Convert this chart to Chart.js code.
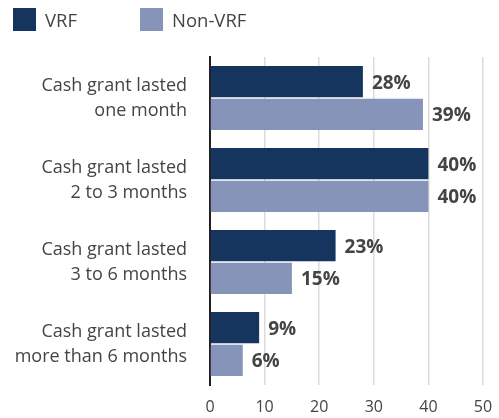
<!DOCTYPE html>
<html>
<head>
<meta charset="utf-8">
<script src="https://cdn.jsdelivr.net/npm/chart.js@4"></script>
<style>
  html, body { margin: 0; padding: 0; background: #fff; }
  #wrap { position: relative; width: 499px; height: 418px; }
  canvas { display: block; }
  #legend { position: absolute; left: 13px; top: 8px; font-family: "Open Sans", sans-serif; font-size: 18.5px; color: #444; display: flex; line-height: 23px; }
  .item { display: flex; align-items: center; margin-right: 63px; }
  .box { width: 23px; height: 23px; margin-right: 9px; }
</style>
</head>
<body>
<div id="wrap">
  <div id="legend"></div>
  <canvas id="chart" width="499" height="418"></canvas>
</div>
<script>
// ================= DATA =================
const categorias = [
  ["Cash grant lasted", "one month"],
  ["Cash grant lasted", "2 to 3 months"],
  ["Cash grant lasted", "3 to 6 months"],
  ["Cash grant lasted", "more than 6 months"]
];
const series = ["VRF", "Non-VRF"];
const vrf = [28, 40, 23, 9];
const nonVrf = [39, 40, 15, 6];
const xTicks = [0, 10, 20, 30, 40, 50];

const colores = ["#16355e", "#8594b8"];

// ================= LEGEND =================
const legendEl = document.getElementById("legend");
series.forEach((s, i) => {
  legendEl.innerHTML += `<div class="item"><div class="box" style="background:${colores[i]}"></div>${s}</div>`;
});

// ================= PLUGIN LABELS =================
const valueLabels = {
  id: "valueLabels",
  afterDatasetsDraw(chart) {
    const ctx = chart.ctx;
    ctx.save();
    ctx.font = "bold 19px 'Open Sans', sans-serif";
    ctx.fillStyle = "#444";
    ctx.textAlign = "left";
    ctx.textBaseline = "middle";
    chart.data.datasets.forEach((ds, i) => {
      chart.getDatasetMeta(i).data.forEach((bar, j) => {
        ctx.fillText(ds.data[j] + "%", bar.x + 9, bar.y + 1.5);
      });
    });
    ctx.restore();
  }
};

// ================= CHART =================
new Chart(document.getElementById("chart"), {
  type: "bar",
  data: {
    labels: categorias,
    datasets: [
      { label: series[0], data: vrf, backgroundColor: colores[0] },
      { label: series[1], data: nonVrf, backgroundColor: colores[1] }
    ]
  },
  plugins: [valueLabels],
  options: {
    indexAxis: "y",
    responsive: false,
    animation: false,
    categoryPercentage: 0.8,
    barPercentage: 0.95,
    layout: { padding: { top: 57, right: 16, left: 0, bottom: 0 } },
    plugins: { legend: { display: false }, tooltip: { enabled: false } },
    scales: {
      x: {
        min: 0,
        max: 50,
        afterBuildTicks: scale => { scale.ticks = xTicks.map(v => ({ value: v })); },
        afterFit: scale => { scale.height = 33; scale.paddingLeft = 0; scale.paddingRight = 0; },
        grid: { color: "#dcdcdc", lineWidth: 1.5, drawTicks: false },
        border: { display: false },
        ticks: { color: "#444", padding: 13, font: { family: "'Open Sans', sans-serif", size: 16 } }
      },
      y: {
        afterFit: scale => { scale.width = 210; scale.paddingTop = 0; scale.paddingBottom = 0; },
        grid: { display: false },
        border: { color: "#231f20", width: 2 },
        ticks: { color: "#444", padding: 15, font: { family: "'Open Sans', sans-serif", size: 18, lineHeight: 1.39 } }
      }
    }
  }
});
</script>
</body>
</html>
